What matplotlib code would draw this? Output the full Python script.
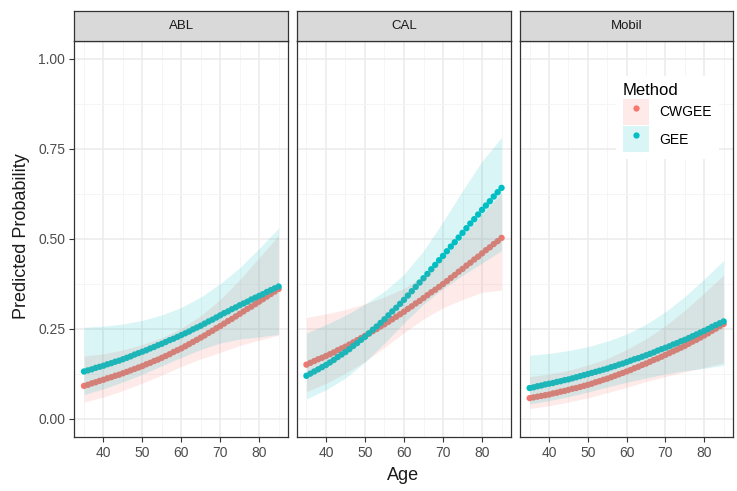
import numpy as np
import matplotlib
matplotlib.use("Agg")
import matplotlib.pyplot as plt
from matplotlib.patches import Patch
from matplotlib.lines import Line2D
from matplotlib.legend_handler import HandlerTuple

plt.rcParams['font.family'] = ['Liberation Sans', 'DejaVu Sans']

panels = ["ABL", "CAL", "Mobil"]
methods = ["CWGEE", "GEE"]
colors = {"CWGEE": "#F8766D", "GEE": "#00BFC4"}

age = list(range(35, 86))
age_band = [35, 40, 45, 50, 55, 60, 65, 70, 75, 80, 85]

fit_ABL_CWGEE = [0.092, 0.095, 0.099, 0.102, 0.106, 0.109, 0.113, 0.116, 0.120, 0.123,
                 0.127, 0.131, 0.135, 0.139, 0.143, 0.147, 0.152, 0.156, 0.161, 0.165,
                 0.170, 0.175, 0.180, 0.186, 0.191, 0.196, 0.202, 0.208, 0.214, 0.220,
                 0.226, 0.232, 0.239, 0.245, 0.252, 0.258, 0.265, 0.272, 0.278, 0.285,
                 0.292, 0.299, 0.306, 0.312, 0.319, 0.326, 0.333, 0.340, 0.347, 0.354, 0.361]
fit_ABL_GEE = [0.132, 0.135, 0.138, 0.142, 0.145, 0.148, 0.152, 0.155, 0.159, 0.162,
               0.166, 0.170, 0.174, 0.179, 0.183, 0.187, 0.191, 0.196, 0.200, 0.205,
               0.209, 0.214, 0.219, 0.223, 0.228, 0.233, 0.238, 0.243, 0.249, 0.254,
               0.259, 0.265, 0.271, 0.276, 0.282, 0.288, 0.294, 0.299, 0.305, 0.310,
               0.316, 0.321, 0.326, 0.332, 0.337, 0.342, 0.347, 0.353, 0.358, 0.363, 0.368]
fit_CAL_CWGEE = [0.151, 0.156, 0.161, 0.166, 0.170, 0.175, 0.180, 0.185, 0.191, 0.196,
                 0.201, 0.207, 0.213, 0.219, 0.225, 0.231, 0.237, 0.244, 0.250, 0.257,
                 0.263, 0.270, 0.277, 0.284, 0.291, 0.298, 0.306, 0.313, 0.321, 0.328,
                 0.336, 0.344, 0.352, 0.359, 0.367, 0.375, 0.383, 0.392, 0.400, 0.409,
                 0.417, 0.426, 0.434, 0.443, 0.451, 0.460, 0.469, 0.477, 0.486, 0.494, 0.503]
fit_CAL_GEE = [0.120, 0.126, 0.132, 0.138, 0.144, 0.150, 0.157, 0.164, 0.172, 0.179,
               0.186, 0.194, 0.203, 0.211, 0.220, 0.228, 0.238, 0.248, 0.257, 0.267,
               0.277, 0.288, 0.299, 0.309, 0.320, 0.331, 0.343, 0.355, 0.367, 0.379,
               0.391, 0.403, 0.416, 0.428, 0.441, 0.453, 0.466, 0.479, 0.491, 0.504,
               0.517, 0.530, 0.543, 0.555, 0.568, 0.581, 0.593, 0.605, 0.618, 0.630, 0.642]
fit_Mobil_CWGEE = [0.058, 0.060, 0.062, 0.064, 0.066, 0.068, 0.071, 0.073, 0.076, 0.078,
                   0.081, 0.084, 0.086, 0.089, 0.092, 0.095, 0.098, 0.102, 0.105, 0.109,
                   0.112, 0.116, 0.120, 0.124, 0.128, 0.132, 0.136, 0.141, 0.145, 0.150,
                   0.154, 0.159, 0.164, 0.168, 0.173, 0.178, 0.183, 0.188, 0.193, 0.198,
                   0.203, 0.209, 0.215, 0.220, 0.226, 0.232, 0.238, 0.245, 0.251, 0.258, 0.264]
fit_Mobil_GEE = [0.086, 0.088, 0.091, 0.093, 0.096, 0.098, 0.100, 0.103, 0.105, 0.108,
                 0.110, 0.113, 0.116, 0.119, 0.122, 0.125, 0.128, 0.131, 0.134, 0.137,
                 0.140, 0.144, 0.147, 0.151, 0.154, 0.158, 0.162, 0.166, 0.169, 0.173,
                 0.177, 0.181, 0.185, 0.190, 0.194, 0.198, 0.202, 0.207, 0.211, 0.216,
                 0.220, 0.225, 0.230, 0.235, 0.240, 0.245, 0.250, 0.256, 0.261, 0.266, 0.271]

lo_ABL_CWGEE = [0.047, 0.061, 0.079, 0.100, 0.122, 0.146, 0.167, 0.185, 0.204, 0.219, 0.233]
hi_ABL_CWGEE = [0.175, 0.181, 0.192, 0.207, 0.226, 0.252, 0.287, 0.332, 0.387, 0.448, 0.510]
lo_ABL_GEE = [0.068, 0.084, 0.103, 0.124, 0.148, 0.171, 0.193, 0.211, 0.222, 0.228, 0.235]
hi_ABL_GEE = [0.255, 0.258, 0.264, 0.274, 0.289, 0.310, 0.339, 0.376, 0.420, 0.474, 0.530]
lo_CAL_CWGEE = [0.076, 0.099, 0.127, 0.160, 0.199, 0.240, 0.278, 0.309, 0.332, 0.352, 0.358]
hi_CAL_CWGEE = [0.282, 0.292, 0.304, 0.320, 0.339, 0.363, 0.398, 0.447, 0.507, 0.568, 0.628]
lo_CAL_GEE = [0.056, 0.081, 0.114, 0.158, 0.211, 0.267, 0.319, 0.362, 0.399, 0.433, 0.468]
hi_CAL_GEE = [0.239, 0.262, 0.288, 0.319, 0.355, 0.402, 0.467, 0.548, 0.634, 0.716, 0.782]
lo_Mobil_CWGEE = [0.029, 0.037, 0.047, 0.059, 0.073, 0.088, 0.104, 0.118, 0.131, 0.143, 0.156]
hi_Mobil_CWGEE = [0.118, 0.125, 0.135, 0.150, 0.168, 0.193, 0.223, 0.259, 0.302, 0.350, 0.400]
lo_Mobil_GEE = [0.042, 0.051, 0.062, 0.075, 0.089, 0.102, 0.114, 0.125, 0.134, 0.141, 0.149]
hi_Mobil_GEE = [0.177, 0.182, 0.190, 0.201, 0.216, 0.236, 0.263, 0.298, 0.340, 0.389, 0.440]

fits = {("ABL", "CWGEE"): fit_ABL_CWGEE, ("ABL", "GEE"): fit_ABL_GEE,
        ("CAL", "CWGEE"): fit_CAL_CWGEE, ("CAL", "GEE"): fit_CAL_GEE,
        ("Mobil", "CWGEE"): fit_Mobil_CWGEE, ("Mobil", "GEE"): fit_Mobil_GEE}
bands = {("ABL", "CWGEE"): (lo_ABL_CWGEE, hi_ABL_CWGEE), ("ABL", "GEE"): (lo_ABL_GEE, hi_ABL_GEE),
         ("CAL", "CWGEE"): (lo_CAL_CWGEE, hi_CAL_CWGEE), ("CAL", "GEE"): (lo_CAL_GEE, hi_CAL_GEE),
         ("Mobil", "CWGEE"): (lo_Mobil_CWGEE, hi_Mobil_CWGEE), ("Mobil", "GEE"): (lo_Mobil_GEE, hi_Mobil_GEE)}

W, H = 737, 491
fig = plt.figure(figsize=(W / 100, H / 100), dpi=100)
fig.patch.set_facecolor("white")

panel_x = [(74.3, 288.3), (296.7, 511.3), (520.0, 733.3)]
top, bottom, strip_top = 41.0, 437.0, 11.0

edge = "#333333"
for i, p in enumerate(panels):
    x0, x1 = panel_x[i]
    ax = fig.add_axes([x0 / W, (H - bottom) / H, (x1 - x0) / W, (bottom - top) / H])
    ax.set_xlim(32.5, 87.5)
    ax.set_ylim(-0.05, 1.05)
    ax.set_xticks([40, 50, 60, 70, 80])
    ax.set_xticks([35, 45, 55, 65, 75, 85], minor=True)
    ax.set_yticks([0, 0.25, 0.5, 0.75, 1.0])
    ax.set_yticks([0.125, 0.375, 0.625, 0.875], minor=True)
    ax.grid(True, which="major", color="#EBEBEB", linewidth=1.1, zorder=0)
    ax.grid(True, which="minor", color="#F4F4F4", linewidth=0.6, zorder=0)
    ax.set_axisbelow(True)
    for s in ax.spines.values():
        s.set_color(edge)
        s.set_linewidth(0.9)
    ax.tick_params(which="major", length=3.5, width=0.8, color=edge, labelcolor="#4D4D4D",
                   labelsize=10, pad=3)
    ax.tick_params(which="minor", length=0)
    if i == 0:
        ax.set_yticklabels(["0.00", "0.25", "0.50", "0.75", "1.00"])
    else:
        ax.tick_params(axis="y", which="major", length=0, labelleft=False)

    for m in methods:
        ax.scatter(age, fits[(p, m)], s=21, color=colors[m], edgecolors="none", zorder=3)
    for m in methods:
        lo, hi = bands[(p, m)]
        ax.fill_between(age_band, lo, hi, color=colors[m], alpha=0.15, linewidth=0, zorder=4)

    sax = fig.add_axes([x0 / W, (H - top) / H, (x1 - x0) / W, (top - strip_top) / H])
    sax.set_facecolor("#D9D9D9")
    sax.set_xticks([])
    sax.set_yticks([])
    for s in sax.spines.values():
        s.set_color(edge)
        s.set_linewidth(0.9)
    sax.text(0.5, 0.5, p, ha="center", va="center", fontsize=9.5, color="#1A1A1A",
             transform=sax.transAxes)

    if i == 2:
        handles = [(Patch(facecolor=colors[m], alpha=0.15, edgecolor="none"),
                    Line2D([], [], marker="o", linestyle="none", markersize=4.5,
                           markerfacecolor=colors[m], markeredgecolor="none"))
                   for m in methods]
        leg = ax.legend(handles, methods, title="Method", handler_map={tuple: HandlerTuple(ndivide=1)},
                        loc="upper left", bbox_to_anchor=(0.418, 0.93), frameon=True,
                        fontsize=10, title_fontsize=12, handlelength=1.87, handleheight=2.5,
                        handletextpad=0.75, labelspacing=0.1, borderpad=0.5)
        leg.get_frame().set_facecolor("white")
        leg.get_frame().set_edgecolor("none")
        leg.get_frame().set_alpha(1.0)
        leg._legend_box.align = "left"
        leg.set_zorder(10)

fig.text(22 / W, 1 - 236 / H, "Predicted Probability", rotation=90, ha="center", va="center",
         fontsize=13, color="#1A1A1A")
fig.text(403 / W, 1 - 475 / H, "Age", ha="center", va="center", fontsize=13, color="#1A1A1A")

fig.savefig("out.png", dpi=100)
